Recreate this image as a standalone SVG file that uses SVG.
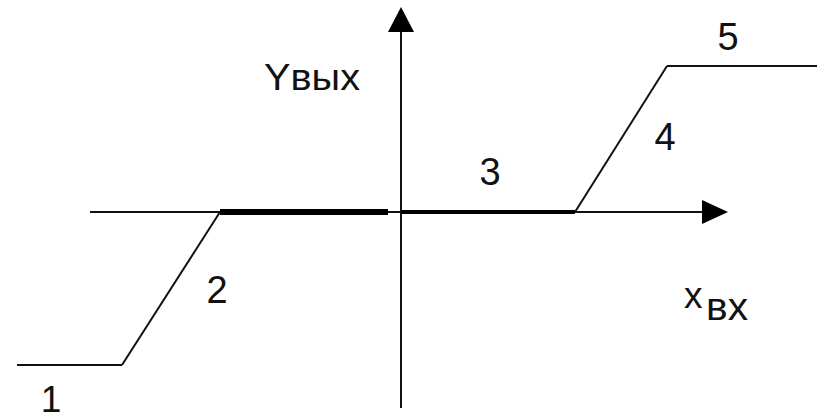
<svg xmlns="http://www.w3.org/2000/svg" width="823" height="420" viewBox="0 0 823 420">
<style>
.ln{stroke:#111;stroke-width:2;fill:none;stroke-linecap:butt}
.thick{stroke:#000;fill:none}
.t{font-family:"Liberation Sans",Arial,sans-serif;fill:#111}
</style>
<rect width="823" height="420" fill="#fff"/>
<g id="axes">
<line class="ln" x1="90" y1="212" x2="704" y2="212"/>
<polygon points="728,212 702,200 702,224" fill="#000"/>
<line class="ln" x1="401" y1="408" x2="401" y2="30"/>
<polygon points="401,7 388,32 414,32" fill="#000"/>
</g>
<g id="characteristic">
<line class="ln" x1="17" y1="365" x2="122" y2="365"/>
<line class="ln" x1="122" y1="365" x2="220" y2="212"/>
<line class="thick" x1="220" y1="212" x2="388" y2="212" stroke-width="6"/>
<line class="thick" x1="401" y1="212" x2="575" y2="212" stroke-width="4"/>
<line class="ln" x1="575" y1="212" x2="667" y2="66"/>
<line class="ln" x1="667" y1="66" x2="817" y2="66"/>
</g>
<g id="labels">
<text class="t" x="51" y="412" font-size="37" text-anchor="middle">1</text>
<text class="t" x="217" y="303" font-size="38" text-anchor="middle">2</text>
<text class="t" x="490" y="185" font-size="38" text-anchor="middle">3</text>
<text class="t" x="665" y="150" font-size="38" text-anchor="middle">4</text>
<text class="t" x="728" y="50" font-size="38" text-anchor="middle">5</text>
<text class="t" x="264" y="90" font-size="36" textLength="96" lengthAdjust="spacingAndGlyphs">Yвых</text>
<text class="t" x="684" y="308" font-size="37">x</text>
<text class="t" x="706" y="320" font-size="38" textLength="42" lengthAdjust="spacingAndGlyphs">вх</text>
</g>
</svg>
